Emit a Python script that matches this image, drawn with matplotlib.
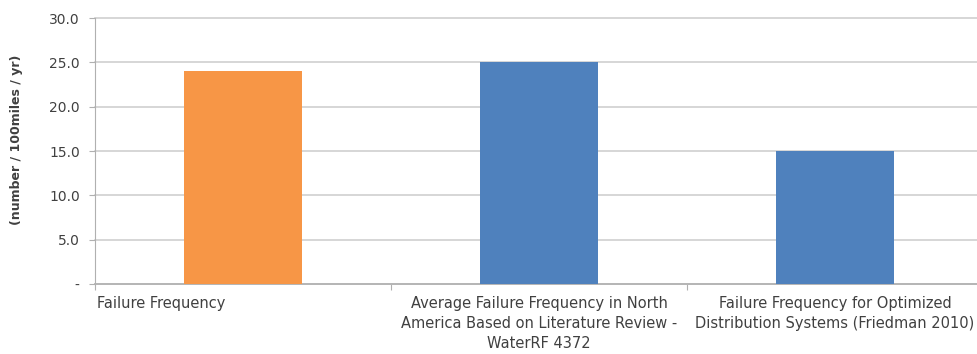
import numpy as np
import matplotlib
matplotlib.use('Agg')
import matplotlib.pyplot as plt
from matplotlib.ticker import FuncFormatter

# values
categories = [
    'Failure Frequency',
    'Average Failure Frequency in North\nAmerica Based on Literature Review -\nWaterRF 4372',
    'Failure Frequency for Optimized\nDistribution Systems (Friedman 2010)',
]
values = [24.0, 25.0, 15.0]
bar_colors = ['#F79646', '#4F81BD', '#4F81BD']
y_ticks = [0, 5, 10, 15, 20, 25, 30]
y_label = '(number / 100miles / yr)'

GRID = '#d0d0d0'
TEXT = '#404040'


def fmt(v, pos):
    return '-' if v == 0 else f'{v:.1f}'


def main():
    plt.rcParams['font.family'] = ['DejaVu Sans']
    fig = plt.figure(figsize=(9.78, 3.54), dpi=100)
    ax = fig.add_axes([95 / 978, 1 - 284 / 354, 888 / 978, 266 / 354])

    x = np.arange(len(values))
    ax.bar(x, values, width=0.4, color=bar_colors, zorder=3)

    ax.set_xlim(-0.5, len(values) - 0.5)
    ax.set_ylim(0, 30)
    ax.set_yticks(y_ticks)
    ax.yaxis.set_major_formatter(FuncFormatter(fmt))
    ax.grid(axis='y', color=GRID, linewidth=1.2, zorder=0, clip_on=False)

    # category boundaries carry the tick marks, labels are placed by hand
    ax.set_xticks(np.arange(len(values) + 1) - 0.5)
    ax.set_xticklabels([])
    ax.tick_params(axis='x', length=4, color='#b0b0b0')
    ax.tick_params(axis='y', length=4, color='#b0b0b0', pad=7,
                   labelsize=10, labelcolor=TEXT)

    for s in ['top', 'right']:
        ax.spines[s].set_visible(False)
    ax.spines['left'].set_color('#b0b0b0')
    ax.spines['bottom'].set_color('#b0b0b0')
    ax.spines['bottom'].set_linewidth(1.2)

    trans = ax.get_xaxis_transform()
    for i, lab in enumerate(categories):
        if i == 0:
            ax.text(-0.493, -0.045, lab, transform=trans, ha='left', va='top',
                    fontsize=10.5, color=TEXT, linespacing=1.42)
        else:
            ax.text(i, -0.045, lab, transform=trans, ha='center', va='top',
                    fontsize=10.5, color=TEXT, linespacing=1.42)

    fig.text(17 / 978, 0.605, y_label, rotation=90, ha='center', va='center',
             fontsize=9, fontweight='bold', color=TEXT)

    fig.savefig('out.png', dpi=100)


if __name__ == '__main__':
    main()
